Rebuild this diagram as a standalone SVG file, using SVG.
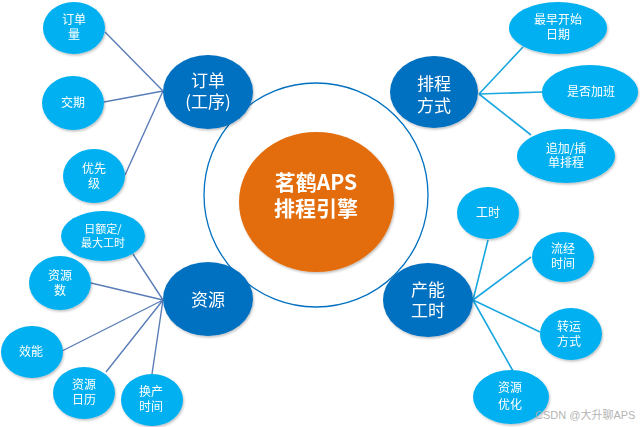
<svg xmlns="http://www.w3.org/2000/svg" width="640" height="427" viewBox="0 0 640 427">
<style>
.main{fill:#0070C0}
.sub{fill:#00B0F0}
.t{font-family:"Noto Sans CJK SC","Liberation Sans",sans-serif;fill:#fff;text-anchor:middle}
.ts{font-size:12px}
.tm{font-size:17px}
.lc{stroke:#5A7DB8;stroke-width:1.4;fill:none}
.rc{stroke:#1AA7E0;stroke-width:1.6;fill:none}
</style>
<defs>
<filter id="sh" x="-20%" y="-20%" width="150%" height="150%">
<feDropShadow dx="1" dy="1.5" stdDeviation="1.2" flood-color="#000" flood-opacity="0.25"/>
</filter>
</defs>
<rect width="640" height="427" fill="#fff"/>
<g id="connectors">
<path class="lc" d="M163 91 L105 32 M163 91 L104 102 M163 91 L125 175"/>
<path class="rc" d="M479 94 L523 47 M479 94 L542 92 M479 94 L531 135"/>
<path class="lc" d="M163 300 L133 254 M163 300 L91 283 M163 300 L62 351 M163 300 L106 372 M163 300 L152 374"/>
<path class="rc" d="M473 300 L488 240 M473 300 L531 257 M473 300 L540 332 M473 300 L513 371"/>
</g>
<g id="ring"><circle cx="316" cy="195" r="112" fill="none" stroke="#0070C0" stroke-width="1.3"/></g>
<g id="center" filter="url(#sh)">
<ellipse cx="316.5" cy="202" rx="77.5" ry="70" fill="#E36C0A"/>
<text class="t" font-size="21" font-weight="bold"><tspan x="316" y="189.5">茗鹤APS</tspan><tspan x="316" y="215.5">排程引擎</tspan></text>
</g>
<g id="order" filter="url(#sh)">
<ellipse class="main" cx="208" cy="92" rx="45" ry="37"/>
<text class="t tm"><tspan x="208" y="87">订单</tspan><tspan x="208" y="108">(工序)</tspan></text>
</g>
<g id="sched" filter="url(#sh)">
<ellipse class="main" cx="434" cy="92" rx="44" ry="36"/>
<text class="t tm"><tspan x="434" y="90">排程</tspan><tspan x="434" y="112">方式</tspan></text>
</g>
<g id="res" filter="url(#sh)">
<ellipse class="main" cx="208" cy="299" rx="45" ry="37"/>
<text class="t tm" x="208" y="306">资源</text>
</g>
<g id="cap" filter="url(#sh)">
<ellipse class="main" cx="428" cy="300" rx="45" ry="37"/>
<text class="t tm"><tspan x="428" y="296">产能</tspan><tspan x="428" y="317">工时</tspan></text>
</g>
<g id="n1" filter="url(#sh)"><ellipse class="sub" cx="74" cy="28" rx="31" ry="26"/><text class="t ts"><tspan x="74" y="24.3">订单</tspan><tspan x="74" y="39.3">量</tspan></text></g>
<g id="n2" filter="url(#sh)"><ellipse class="sub" cx="73" cy="103" rx="31" ry="27"/><text class="t ts" x="73" y="107.3">交期</text></g>
<g id="n3" filter="url(#sh)"><ellipse class="sub" cx="94" cy="176" rx="31" ry="27"/><text class="t ts"><tspan x="94" y="173.3">优先</tspan><tspan x="94" y="188.3">级</tspan></text></g>
<g id="n4" filter="url(#sh)"><ellipse class="sub" cx="103" cy="236" rx="42" ry="25"/><text class="t" font-size="11"><tspan x="103" y="233">日额定/</tspan><tspan x="103" y="247">最大工时</tspan></text></g>
<g id="n5" filter="url(#sh)"><ellipse class="sub" cx="60" cy="283" rx="31" ry="27"/><text class="t ts"><tspan x="60" y="280.3">资源</tspan><tspan x="60" y="295.3">数</tspan></text></g>
<g id="n6" filter="url(#sh)"><ellipse class="sub" cx="32" cy="352" rx="31" ry="26"/><text class="t ts" x="31" y="356.3">效能</text></g>
<g id="n7" filter="url(#sh)"><ellipse class="sub" cx="84" cy="393" rx="31" ry="26"/><text class="t ts"><tspan x="84" y="389.3">资源</tspan><tspan x="84" y="404.3">日历</tspan></text></g>
<g id="n8" filter="url(#sh)"><ellipse class="sub" cx="152" cy="400" rx="31" ry="26"/><text class="t ts"><tspan x="151" y="396.3">换产</tspan><tspan x="151" y="411.3">时间</tspan></text></g>
<g id="r1" filter="url(#sh)"><ellipse class="sub" cx="558" cy="28" rx="49" ry="26"/><text class="t ts"><tspan x="558" y="24.3">最早开始</tspan><tspan x="558" y="39.3">日期</tspan></text></g>
<g id="r2" filter="url(#sh)"><ellipse class="sub" cx="590" cy="92" rx="48" ry="27"/><text class="t ts" x="591" y="96.3">是否加班</text></g>
<g id="r3" filter="url(#sh)"><ellipse class="sub" cx="566" cy="156" rx="49" ry="27"/><text class="t ts"><tspan x="566" y="153.3">追加/插</tspan><tspan x="566" y="167.3">单排程</tspan></text></g>
<g id="p1" filter="url(#sh)"><ellipse class="sub" cx="488" cy="213" rx="31" ry="26"/><text class="t ts" x="488" y="217.3">工时</text></g>
<g id="p2" filter="url(#sh)"><ellipse class="sub" cx="563" cy="257" rx="31" ry="25"/><text class="t ts"><tspan x="563" y="253.3">流经</tspan><tspan x="563" y="268.3">时间</tspan></text></g>
<g id="p3" filter="url(#sh)"><ellipse class="sub" cx="571" cy="334" rx="31" ry="26"/><text class="t ts"><tspan x="569" y="331.3">转运</tspan><tspan x="569" y="346.3">方式</tspan></text></g>
<g id="p4" filter="url(#sh)"><ellipse class="sub" cx="511" cy="397" rx="38" ry="27"/><text class="t ts"><tspan x="510" y="392.3">资源</tspan><tspan x="510" y="409.3">优化</tspan></text></g>
<text x="535" y="419" font-family="Liberation Sans,'Noto Sans CJK SC',sans-serif" font-size="11" fill="#aaa" fill-opacity="0.9">CSDN @大升聊APS</text>
</svg>
